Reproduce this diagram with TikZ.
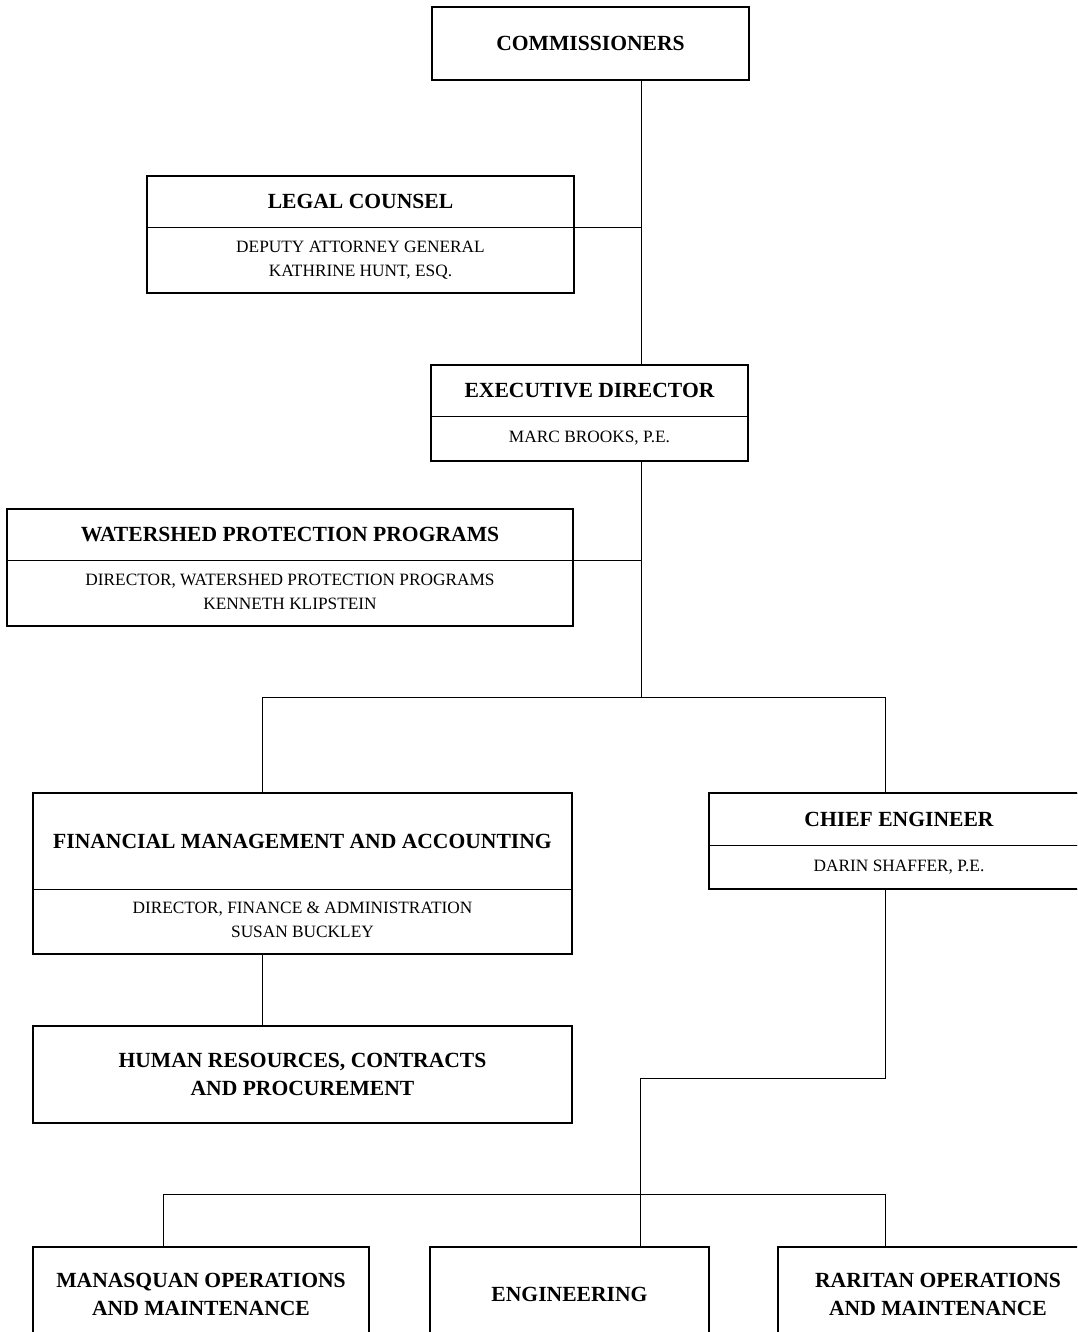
\documentclass[tikz,border=0pt]{standalone}
\usepackage{fontspec}
\setmainfont{Liberation Serif}
\usetikzlibrary{positioning,fit}

\begin{document}
\begin{tikzpicture}[
  x=1pt, y=-1pt,
  part/.style={draw, line width=0.8pt, inner sep=0pt, outer sep=0pt, align=center},
  head/.style={part, font=\fontsize{21.6}{28}\selectfont\bfseries},
  sub/.style={part, font=\fontsize{17.3}{24}\selectfont, text depth=3pt},
  frame/.style={draw, line width=1.6pt, inner sep=0pt, outer sep=0pt},
  link/.style={line width=0.8pt}]

  \path[use as bounding box, clip] (0,0) rectangle (1077,1332);
  \fill[white] (0,0) rectangle (1077,1332);

  % --- board and counsel ---
  \node[head, minimum width=317pt, minimum height=73pt, line width=1.6pt] (comm) at (590.5,43.5) {COMMISSIONERS};
  \node[head, minimum width=427pt, minimum height=51pt] (legal) at (360.5,201.5) {LEGAL COUNSEL};
  \node[sub, minimum width=427pt, minimum height=66pt, below=0pt of legal] (legalsub)
    {DEPUTY ATTORNEY GENERAL\\KATHRINE HUNT, ESQ.};
  \node[frame, fit=(legal)(legalsub)] {};

  % --- executive director ---
  \node[head, minimum width=317pt, minimum height=51pt] (exec) at (589.5,390.5) {EXECUTIVE DIRECTOR};
  \node[sub, minimum width=317pt, minimum height=45pt, below=0pt of exec] (execsub) {MARC BROOKS, P.E.};
  \node[frame, fit=(exec)(execsub)] {};

  \node[head, minimum width=566pt, minimum height=51pt] (water) at (290,534.5) {WATERSHED PROTECTION PROGRAMS};
  \node[sub, minimum width=566pt, minimum height=66pt, below=0pt of water] (watersub)
    {DIRECTOR, WATERSHED PROTECTION PROGRAMS\\KENNETH KLIPSTEIN};
  \node[frame, fit=(water)(watersub)] {};

  % --- finance and engineering ---
  \node[head, minimum width=539pt, minimum height=96pt] (fin) at (302.5,841) {FINANCIAL MANAGEMENT AND ACCOUNTING};
  \node[sub, minimum width=539pt, minimum height=65pt, below=0pt of fin] (finsub)
    {DIRECTOR, FINANCE \& ADMINISTRATION\\SUSAN BUCKLEY};
  \node[frame, fit=(fin)(finsub)] {};

  \node[head, minimum width=380pt, minimum height=52pt] (chief) at (899,819) {CHIEF ENGINEER};
  \node[sub, minimum width=380pt, minimum height=44pt, below=0pt of chief] (chiefsub) {DARIN SHAFFER, P.E.};
  \node[frame, fit=(chief)(chiefsub)] {};

  \node[head, minimum width=539pt, minimum height=97pt, line width=1.6pt] (hr) at (302.5,1074.5)
    {HUMAN RESOURCES, CONTRACTS\\AND PROCUREMENT};

  % --- operations row ---
  \node[head, minimum width=336pt, minimum height=94pt, line width=1.6pt] (man) at (201,1294)
    {MANASQUAN OPERATIONS\\AND MAINTENANCE};
  \node[head, minimum width=279pt, minimum height=94pt, line width=1.6pt] (eng) at (569.5,1294) {ENGINEERING};
  \node[head, minimum width=320pt, minimum height=94pt, line width=1.6pt] (rar) at (938,1294)
    {RARITAN OPERATIONS\\AND MAINTENANCE};

  % --- junctions ---
  \coordinate (spine) at (641,697);
  \coordinate (finj)  at (262,697);
  \coordinate (chiefj) at (885,697);
  \coordinate (engj)  at (640,1078);
  \coordinate (manj)  at (163,1194);
  \coordinate (rarj)  at (885,1194);

  % --- connectors ---
  \draw[link] (comm.south -| spine) -- (exec.north -| spine);
  \draw[link] (legal.south east) -- (legal.south east -| spine);
  \draw[link] (execsub.south -| spine) -- (spine);
  \draw[link] (water.south east) -- (water.south east -| spine);
  \draw[link] (finj |- fin.north) -- (finj) -- (chiefj) -- (chiefj |- chief.north);
  \draw[link] (finsub.south -| finj) -- (hr.north -| finj);
  \draw[link] (chiefsub.south -| chiefj) |- (engj) -- (engj |- eng.north);
  \draw[link] (manj |- man.north) -- (manj) -- (rarj) -- (rarj |- rar.north);
\end{tikzpicture}
\end{document}
